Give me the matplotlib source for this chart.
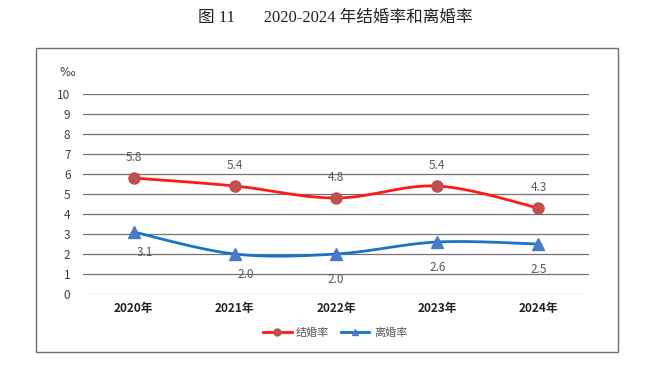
import numpy as np
import matplotlib
matplotlib.use("Agg")
import matplotlib.pyplot as plt
from matplotlib.patches import Rectangle
from matplotlib.lines import Line2D

plt.rcParams['font.family'] = ['Noto Sans CJK SC', 'DejaVu Sans']

years = ['2020年', '2021年', '2022年', '2023年', '2024年']
marriage = [5.8, 5.4, 4.8, 5.4, 4.3]
divorce = [3.1, 2.0, 2.0, 2.6, 2.5]
# label offsets in points (dx, dy) for divorce labels
divorce_offsets = [(8, -10), (8, -10), (0, -14), (0, -14), (0, -14)]


def smooth(xs, ys, n=30, t=0.5):
    """Excel-like smoothed line through the points (cardinal spline)."""
    xs = np.asarray(xs, float)
    ys = np.asarray(ys, float)
    px = np.concatenate([[xs[0]], xs, [xs[-1]]])
    py = np.concatenate([[ys[0]], ys, [ys[-1]]])
    outx, outy = [], []
    for i in range(1, len(px) - 2):
        p0 = np.array([px[i], py[i]])
        p1 = np.array([px[i + 1], py[i + 1]])
        m0 = (np.array([px[i + 1], py[i + 1]]) - np.array([px[i - 1], py[i - 1]])) * t / 3
        m1 = (np.array([px[i + 2], py[i + 2]]) - np.array([px[i], py[i]])) * t / 3
        c1 = p0 + m0
        c2 = p1 - m1
        s = np.linspace(0, 1, n)[:, None]
        b = ((1 - s) ** 3) * p0 + 3 * ((1 - s) ** 2) * s * c1 + 3 * (1 - s) * s ** 2 * c2 + s ** 3 * p1
        outx.extend(b[:, 0])
        outy.extend(b[:, 1])
    return np.array(outx), np.array(outy)


fig = plt.figure(figsize=(6.64, 3.74), dpi=100)
ax = fig.add_axes([83 / 664, 80 / 374, 506 / 664, 200 / 374])

# outer frame
fig.patches.append(Rectangle((36 / 664, 22 / 374), 582 / 664, 304 / 374,
                             transform=fig.transFigure, fill=False,
                             edgecolor='#6f6f6f', linewidth=1.0))

x = np.arange(len(years))
for v in range(1, 11):
    ax.axhline(v, color='#737373', linewidth=0.9, zorder=0)
ax.axhline(0, color='#d0d0d0', linewidth=1.0, zorder=0)

sx, sy = smooth(x, marriage)
ax.plot(sx, sy, color='#ff1a1a', linewidth=2.0, zorder=3)
ax.plot(x, marriage, 'o', color='#c0504d', markersize=8, zorder=4)

sx, sy = smooth(x, divorce)
ax.plot(sx, sy, color='#1a74c6', linewidth=2.0, zorder=3)
ax.plot(x, divorce, '^', color='#4a7cc4', markersize=8, zorder=4)

for xi, v in zip(x, marriage):
    ax.annotate(f'{v:.1f}', (xi, v), xytext=(0, 10), textcoords='offset points',
                ha='center', va='bottom', fontsize=8.5, color='#595959')
for xi, v, (dx, dy) in zip(x, divorce, divorce_offsets):
    ax.annotate(f'{v:.1f}', (xi, v), xytext=(dx, dy), textcoords='offset points',
                ha='center', va='top', fontsize=8.5, color='#595959')

ax.set_xlim(-0.5, len(years) - 0.5)
ax.set_ylim(0, 10)
ax.set_yticks(range(0, 11))
ax.set_xticks(x)
ax.set_xticklabels(years, fontsize=8.5, fontweight='bold', color='#222222')
ax.tick_params(axis='y', length=0, pad=9, labelsize=8.5, labelcolor='#404040')
ax.tick_params(axis='x', length=0, pad=6)
for s in ax.spines.values():
    s.set_visible(False)

fig.text(67 / 664, 1 - 73 / 374, '‰', ha='center', va='center', fontsize=8.5,
         color='#404040', family=['DejaVu Sans'])

fig.text(335 / 664, 1 - 18 / 374, '图 11       2020-2024 年结婚率和离婚率', ha='center',
         va='center', fontsize=12, color='#222222',
         family=['Liberation Serif', 'Noto Sans CJK SC'])

handles = [Line2D([0], [0], color='#ff1a1a', linewidth=2, marker='o',
                  markerfacecolor='#c0504d', markeredgecolor='#c0504d', markersize=5),
           Line2D([0], [0], color='#1a74c6', linewidth=2, marker='^',
                  markerfacecolor='#4a7cc4', markeredgecolor='#4a7cc4', markersize=4)]
fig.legend(handles, ['结婚率', '离婚率'], loc='center', bbox_to_anchor=(335 / 664, 1 - 333 / 374),
           ncol=2, frameon=False, fontsize=8, labelcolor='#595959',
           handlelength=2.6, columnspacing=1.0, handletextpad=0.4)

fig.savefig('out.png', dpi=100)
